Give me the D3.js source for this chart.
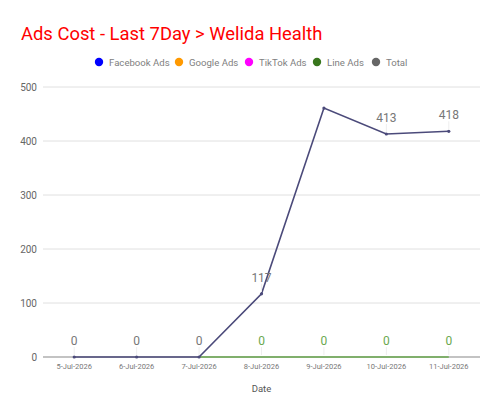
<!DOCTYPE html>
<html>
<head>
<meta charset="utf-8">
<script src="https://cdn.jsdelivr.net/npm/d3@7"></script>
<style>
  body { margin: 0; background: #fff; }
  text { font-family: Roboto, sans-serif; }
</style>
</head>
<body>
<div id="chart"></div>
<script>
var w = 500;
var h = 415;

var dates = ["5-Jul-2026", "6-Jul-2026", "7-Jul-2026", "8-Jul-2026", "9-Jul-2026", "10-Jul-2026", "11-Jul-2026"];
var totalValues = [0, 0, 0, 117, 461, 413, 418];
var lineAdsValues = [null, null, 0, 0, 0, 0, 0];
var totalLabels = ["0", "0", "0", "117", "", "413", "418"];
var lineAdsLabels = ["", "", "", "0", "0", "0", "0"];
var yTicks = [0, 100, 200, 300, 400, 500];
var legendNames = ["Facebook Ads", "Google Ads", "TikTok Ads", "Line Ads", "Total"];
var legendColors = ["#0000ff", "#ff9900", "#ff00ff", "#38761d", "#666666"];

var margin = {left: 43, right: 20, top: 87, bottom: 58};

var svg = d3.select("#chart")
    .append("svg")
    .attr("width", w)
    .attr("height", h);

var x = d3.scalePoint()
    .domain(dates)
    .range([margin.left, w - margin.right])
    .padding(0.5);

var y = d3.scaleLinear()
    .domain([0, 500])
    .range([h - margin.bottom, margin.top]);

// title
svg.append("text")
    .attr("x", 21)
    .attr("y", 40)
    .style("font-size", "18.4px")
    .style("fill", "#ff0000")
    .text("Ads Cost - Last 7Day > Welida Health");

// legend
var legendX = [99, 179, 249, 317, 376];
var legend = svg.selectAll(".legend")
    .data(legendNames)
    .enter()
    .append("g")
    .attr("transform", function(d, i) { return "translate(" + legendX[i] + ",62)"; });

legend.append("circle")
    .attr("r", 4.2)
    .style("fill", function(d, i) { return legendColors[i]; });

legend.append("text")
    .attr("x", 10)
    .attr("y", 3.5)
    .style("font-size", "9.6px")
    .style("fill", "#808080")
    .text(function(d) { return d; });

// grid + y axis
svg.selectAll(".grid")
    .data(yTicks.slice(1))
    .enter()
    .append("line")
    .attr("x1", margin.left)
    .attr("x2", w - margin.right)
    .attr("y1", function(d) { return y(d); })
    .attr("y2", function(d) { return y(d); })
    .style("stroke", "#e0e0e0")
    .style("stroke-width", 1);

svg.selectAll(".ylab")
    .data(yTicks)
    .enter()
    .append("text")
    .attr("x", 37)
    .attr("y", function(d) { return y(d) + 4; })
    .attr("text-anchor", "end")
    .style("font-size", "10px")
    .style("fill", "#666")
    .text(function(d) { return d; });

// baseline
svg.append("line")
    .attr("x1", margin.left)
    .attr("x2", w - margin.right)
    .attr("y1", y(0))
    .attr("y2", y(0))
    .style("stroke", "#888")
    .style("stroke-width", 1.2);

// x tick labels
svg.selectAll(".xlab")
    .data(dates)
    .enter()
    .append("text")
    .attr("x", function(d) { return x(d); })
    .attr("y", y(0) + 12)
    .attr("text-anchor", "middle")
    .style("font-size", "7.5px")
    .style("fill", "#777")
    .text(function(d) { return d; });

svg.append("text")
    .attr("x", x(dates[3]))
    .attr("y", 392)
    .attr("text-anchor", "middle")
    .style("font-size", "9.5px")
    .style("fill", "#555")
    .text("Date");

// lines
var line = d3.line()
    .defined(function(d) { return d[1] !== null; })
    .x(function(d) { return x(d[0]); })
    .y(function(d) { return y(d[1]); });

svg.append("path")
    .datum(dates.map(function(d, i) { return [d, lineAdsValues[i]]; }))
    .attr("d", line)
    .style("fill", "none")
    .style("stroke", "#6aa84f")
    .style("stroke-width", 1.5);

svg.append("path")
    .datum(dates.map(function(d, i) { return [d, totalValues[i]]; }))
    .attr("d", line)
    .style("fill", "none")
    .style("stroke", "#4b4a7a")
    .style("stroke-width", 1.6);

svg.selectAll(".pt")
    .data(dates)
    .enter()
    .append("circle")
    .attr("cx", function(d) { return x(d); })
    .attr("cy", function(d, i) { return y(totalValues[i]); })
    .attr("r", 1.6)
    .style("fill", "#4b4a7a");

// data labels
function addLabels(labels, values, color) {
    var g = svg.selectAll(null)
        .data(dates.filter(function(d, i) { return labels[i] !== ""; }))
        .enter()
        .append("g");
    g.append("line")
        .attr("x1", function(d) { return x(d); })
        .attr("x2", function(d) { return x(d); })
        .attr("y1", function(d) { return y(values[dates.indexOf(d)]) - 2; })
        .attr("y2", function(d) { return y(values[dates.indexOf(d)]) - 10; })
        .style("stroke", "#eee")
        .style("stroke-width", 1);
    g.append("text")
        .attr("x", function(d) { return x(d); })
        .attr("y", function(d) { return y(values[dates.indexOf(d)]) - 12; })
        .attr("text-anchor", "middle")
        .style("font-size", "12px")
        .style("fill", color)
        .text(function(d) { return labels[dates.indexOf(d)]; });
}

addLabels(totalLabels, totalValues, "#777");
addLabels(lineAdsLabels, lineAdsValues.map(function(v) { return v === null ? 0 : v; }), "#6aa84f");
</script>
</body>
</html>
